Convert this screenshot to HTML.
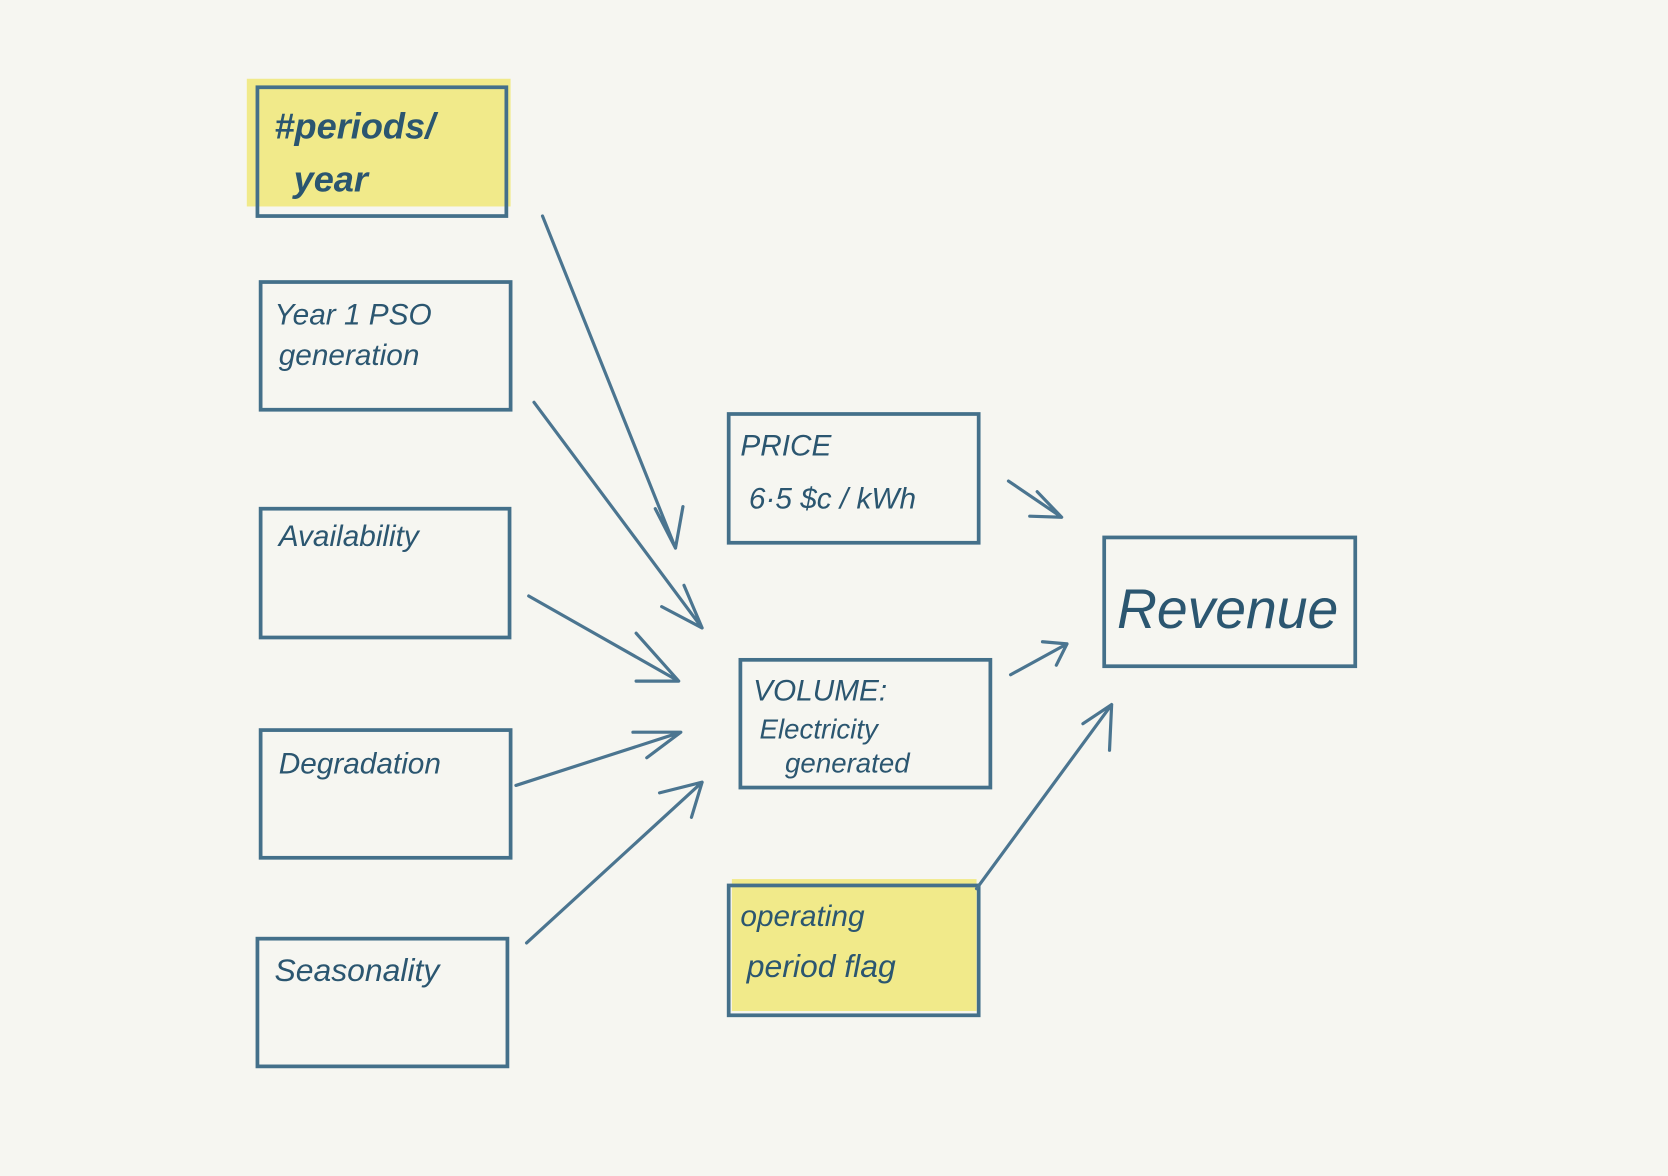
<!DOCTYPE html>
<html><head><meta charset="utf-8"><style>
html,body{margin:0;padding:0;background:#f6f6f1;}
svg{display:block}
text{font-family:"Liberation Sans",sans-serif;fill:#2b5670;font-style:italic}
</style></head><body>
<svg width="1668" height="1176" viewBox="0 0 1568 1105" preserveAspectRatio="none" xmlns="http://www.w3.org/2000/svg">
<rect width="1568" height="1105" fill="#f6f6f1"/>
<rect x="232" y="74" width="248" height="120" fill="#f1ea8a"/>
<rect x="688" y="826" width="230" height="124" fill="#f1ea8a"/>
<g fill="none" stroke="#44708a" stroke-width="3.5">
<rect x="242" y="82" width="234" height="121"/>
<rect x="245" y="265" width="235" height="120"/>
<rect x="245" y="478" width="234" height="121"/>
<rect x="245" y="686" width="235" height="120"/>
<rect x="242" y="882" width="235" height="120"/>
<rect x="685" y="389" width="235" height="121"/>
<rect x="696" y="620" width="235" height="120"/>
<rect x="685" y="832" width="235" height="122"/>
<rect x="1038" y="505" width="236" height="121"/>
</g>
<g fill="none" stroke="#4b7590" stroke-width="3" stroke-linecap="round" stroke-linejoin="round">
<path d="M510 203 L635 515 M616 478 L635 515 L642 476"/>
<path d="M502 378 L660 590 M643 550 L660 590 L622 570"/>
<path d="M497 560 L638 640 M598 595 L638 640 L598 640"/>
<path d="M485 738 L640 688 M595 688 L640 688 L608 712"/>
<path d="M495 886 L660 735 M620 745 L660 735 L650 768"/>
<path d="M948 452 L998 486 M975 462 L998 486 L968 485"/>
<path d="M950 634 L1003 605 M980 603 L1003 605 L993 625"/>
<path d="M918 835 L1045 662 M1018 680 L1045 662 L1043 705"/>
</g>
<text x="258" y="130" font-size="34" font-weight="bold">#periods/</text>
<text x="276" y="180" font-size="34" font-weight="bold">year</text>
<text x="258" y="305" font-size="28">Year 1 PSO</text>
<text x="262" y="343" font-size="28">generation</text>
<text x="262" y="513" font-size="28">Availability</text>
<text x="262" y="727" font-size="28">Degradation</text>
<text x="258" y="922" font-size="30">Seasonality</text>
<text x="696" y="428" font-size="28">PRICE</text>
<text x="704" y="478" font-size="28">6·5 $c / kWh</text>
<text x="708" y="658" font-size="28">VOLUME:</text>
<text x="714" y="694" font-size="26">Electricity</text>
<text x="738" y="726" font-size="26">generated</text>
<text x="696" y="870" font-size="28">operating</text>
<text x="702" y="918" font-size="30">period flag</text>
<text x="1050" y="590" font-size="52">Revenue</text>
</svg>
</body></html>
